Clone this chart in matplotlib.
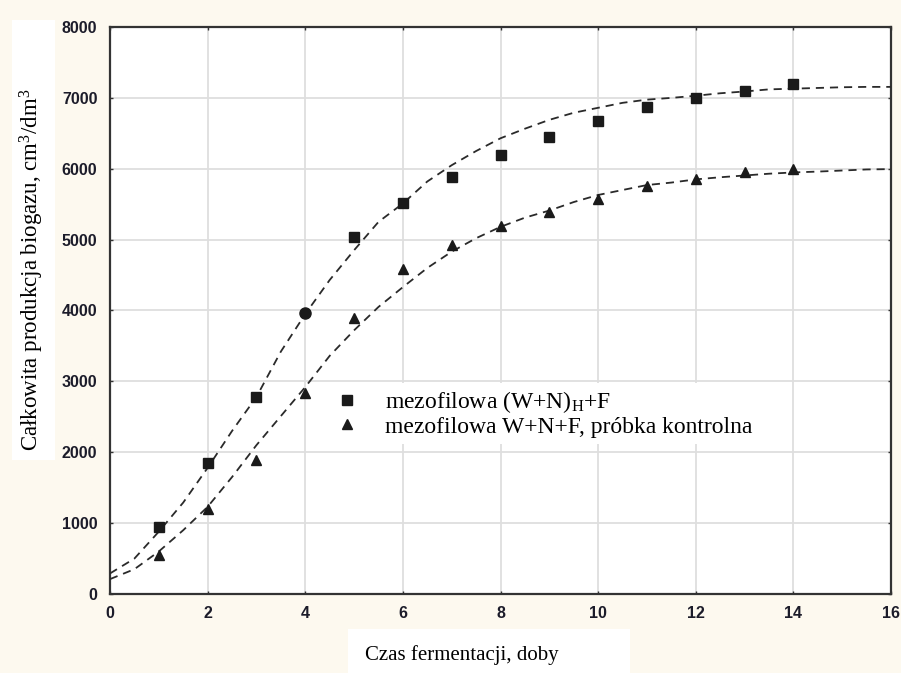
import matplotlib
matplotlib.use("Agg")
import matplotlib.pyplot as plt
from matplotlib.patches import Rectangle
import numpy as np

# measured points, days 1..14
days = [1, 2, 3, 4, 5, 6, 7, 8, 9, 10, 11, 12, 13, 14]
hydro = [940, 1850, 2780, 3960, 5030, 5520, 5890, 6200, 6450, 6670, 6870, 7000, 7100, 7200]
control = [550, 1200, 1890, 2830, 3900, 4590, 4920, 5190, 5390, 5570, 5760, 5860, 5960, 6000]

# fitted curves
fit_days = [0, 0.5, 1, 1.5, 2, 2.5, 3, 3.5, 4, 4.5, 5, 5.5, 6, 6.5, 7, 7.5, 8,
            8.5, 9, 9.5, 10, 10.5, 11, 11.5, 12, 12.5, 13, 13.5, 14, 14.5, 15, 15.5, 16]
hydro_fit = [290, 500, 880, 1290, 1780, 2300, 2780, 3420, 3950, 4430, 4850, 5250,
             5510, 5820, 6050, 6250, 6430, 6565, 6690, 6790, 6860, 6930, 6975, 7000,
             7030, 7065, 7090, 7120, 7130, 7140, 7150, 7155, 7155]
control_fit = [210, 350, 600, 900, 1230, 1650, 2100, 2510, 2920, 3360, 3720, 4050,
               4330, 4600, 4830, 5020, 5180, 5310, 5410, 5530, 5630, 5700, 5770, 5805,
               5850, 5880, 5905, 5930, 5948, 5960, 5975, 5990, 5995]

labels = ["mezofilowa (W+N)$_\\mathrm{H}$+F", "mezofilowa W+N+F, próbka kontrolna"]
x_ticks = [0, 2, 4, 6, 8, 10, 12, 14, 16]
y_ticks = [0, 1000, 2000, 3000, 4000, 5000, 6000, 7000, 8000]

plt.rcParams['font.family'] = ['Liberation Serif', 'DejaVu Serif']
plt.rcParams['mathtext.fontset'] = 'custom'
plt.rcParams['mathtext.rm'] = 'Liberation Serif'
plt.rcParams['mathtext.it'] = 'Liberation Serif:italic'
plt.rcParams['mathtext.bf'] = 'Liberation Serif:bold'

W, H = 901, 673
fig = plt.figure(figsize=(W / 100, H / 100), dpi=100, facecolor='#fdf9ef')
ax = fig.add_axes([110 / W, 79 / H, 781 / W, 567 / H])
ax.set_facecolor('white')

# Fitted curves
dash_kw = dict(color='#2a2a2a', linewidth=1.3, dashes=(4.5, 3.3), zorder=3)
ax.plot(fit_days, hydro_fit, **dash_kw)
ax.plot(fit_days, control_fit, **dash_kw)

# Measured points (the day-4 point of the first series is a circle)
d = np.array(days)
h = np.array(hydro)
sq = d != 4
ax.plot(d[sq], h[sq], 's', color='#1a1a1a', markersize=7.5, zorder=4)
ax.plot(d[~sq], h[~sq], 'o', color='#1a1a1a', markersize=8, zorder=4)
ax.plot(days, control, '^', color='#1a1a1a', markersize=7, zorder=4)

ax.set_xlim(0, 16)
ax.set_ylim(0, 8000)
ax.set_xticks(x_ticks)
ax.set_yticks(y_ticks)
ax.grid(True, color='#dedede', linewidth=1.3, zorder=0)
ax.set_axisbelow(True)
ax.tick_params(direction='in', length=2.5, width=1, color='#333333',
               top=True, right=True, pad=9)
for lab in ax.get_xticklabels() + ax.get_yticklabels():
    lab.set_fontfamily('Liberation Sans')
    lab.set_fontweight('bold')
    lab.set_fontsize(11.5)
    lab.set_color('#1c1c2a')
for side in ['top', 'bottom', 'left', 'right']:
    ax.spines[side].set_color('#333333')
    ax.spines[side].set_linewidth(1.6)

# Legend (white box without border, covering the grid)
h1 = plt.Line2D([], [], marker='s', linestyle='none', color='#1a1a1a', markersize=7.5)
h2 = plt.Line2D([], [], marker='^', linestyle='none', color='#1a1a1a', markersize=7)
leg = ax.legend([h1, h2], labels, loc='upper left', bbox_to_anchor=(0.288, 0.372),
                fontsize=17, frameon=True, fancybox=False, framealpha=1,
                facecolor='white', edgecolor='none', borderaxespad=0,
                borderpad=0.25, handlelength=0.5, handletextpad=1.35,
                labelspacing=0.05)
leg.set_zorder(5)

# white patches behind the axis titles
fig.patches.append(Rectangle((12 / W, 1 - 460 / H), 43 / W, 440 / H,
                             transform=fig.transFigure, facecolor='white',
                             edgecolor='none', zorder=0))
fig.patches.append(Rectangle((348 / W, 0), 282 / W, 44 / H,
                             transform=fig.transFigure, facecolor='white',
                             edgecolor='none', zorder=0))

fig.text(32 / W, 1 - 270 / H, "Całkowita produkcja biogazu, cm$^3$/dm$^3$",
         rotation=90, ha='center', va='center', fontsize=16.5)
fig.text(462 / W, 1 - 655 / H, "Czas fermentacji, doby", ha='center', va='center',
         fontsize=15)

fig.savefig("out.png", dpi=100, facecolor=fig.get_facecolor())
